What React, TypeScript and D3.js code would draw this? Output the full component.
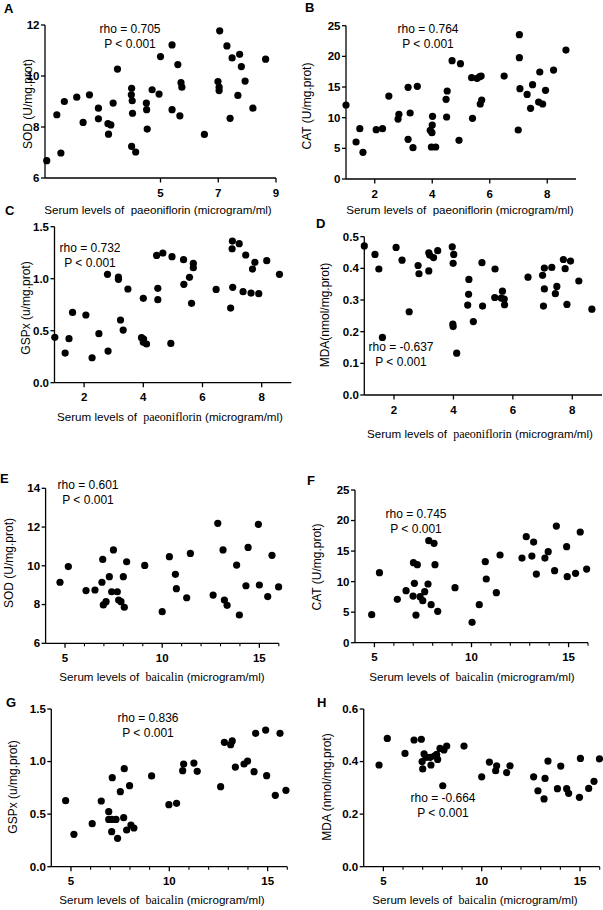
import React from 'react';
import * as d3 from 'd3';

// A: paeoniflorin vs SOD
const aX = [1.06,1.41,1.55,1.67,2.10,2.32,2.54,2.85,2.85,3.18,3.28,3.20,3.36,3.51,4.00,3.99,4.02,4.03,4.00,4.14,4.51,4.52,4.54,4.71,4.95,5.00,5.40,5.40,5.60,5.67,5.71,5.74,6.52,6.99,7.03,7.03,7.05,7.30,7.41,7.48,7.68,7.74,7.80,7.93,8.20,8.64];
const aY = [6.68,8.48,6.98,9.00,9.17,8.18,9.26,8.74,8.32,8.13,8.08,7.72,8.94,10.27,9.52,9.26,9.03,8.54,7.24,7.02,8.94,8.68,7.92,9.46,9.29,10.76,11.22,8.68,10.45,8.44,9.74,9.56,7.71,9.78,9.56,9.43,11.77,11.18,8.34,10.71,9.24,10.85,10.37,9.80,8.74,10.66];
// B: paeoniflorin vs CAT
const bX = [1.00,1.35,1.48,1.59,2.05,2.27,2.49,2.81,2.84,3.16,3.16,3.23,3.33,3.48,3.93,4.00,4.01,3.99,3.97,4.12,4.48,4.52,4.50,4.69,4.98,4.93,5.37,5.40,5.56,5.65,5.70,5.67,5.72,6.50,6.99,7.03,7.03,7.05,7.30,7.42,7.49,7.74,7.70,7.84,7.94,8.22,8.65];
const bY = [12.07,6.03,8.21,4.35,8.04,8.21,13.53,9.78,10.54,14.95,6.47,10.76,5.11,15.11,7.93,8.80,10.22,7.55,5.22,5.22,12.99,14.35,10.11,19.29,18.80,6.30,16.52,9.89,16.41,16.68,16.79,12.23,12.88,16.79,7.99,23.53,19.78,14.73,13.80,11.52,15.38,17.45,12.55,12.23,14.46,17.77,21.03];
// C: paeoniflorin vs GSPx
const cX = [1.01,1.36,1.49,1.61,2.06,2.27,2.50,2.81,2.79,3.16,3.16,3.23,3.32,3.48,4.00,3.94,4.01,4.00,4.11,4.45,4.66,4.49,4.49,4.97,4.93,5.36,5.37,5.56,5.69,5.69,5.63,6.46,7.01,7.00,7.24,7.46,7.02,6.95,7.37,7.77,7.69,7.64,7.90,8.17,8.60];
const cY = [0.436,0.285,0.423,0.676,0.651,0.240,0.471,0.304,1.042,1.016,0.994,0.603,0.506,0.901,0.811,0.433,0.420,0.388,0.372,1.224,1.247,0.907,0.798,1.212,0.378,1.183,0.946,1.013,1.147,1.106,0.763,0.897,1.362,1.288,1.337,1.228,0.917,0.718,0.875,1.157,1.093,0.862,0.856,1.173,1.042];
// D: paeoniflorin vs MDA
const dX = [1.00,1.36,1.49,1.61,2.07,2.27,2.51,2.81,2.84,3.17,3.20,3.33,3.17,3.47,3.96,4.01,3.99,3.98,3.99,4.11,4.52,4.51,4.48,4.67,4.96,4.98,5.40,5.39,5.61,5.65,5.71,5.72,6.51,7.00,7.06,7.06,7.03,7.31,7.43,7.48,7.70,7.76,7.82,7.94,8.22,8.66];
const dY = [0.471,0.444,0.398,0.182,0.466,0.426,0.263,0.409,0.383,0.449,0.442,0.434,0.392,0.456,0.468,0.444,0.416,0.224,0.216,0.132,0.365,0.318,0.284,0.232,0.418,0.281,0.398,0.308,0.306,0.328,0.303,0.285,0.372,0.378,0.401,0.335,0.281,0.403,0.320,0.343,0.428,0.399,0.286,0.423,0.360,0.271];
// E: baicalin vs SOD
const eX = [4.74,5.17,6.08,6.54,6.94,6.90,6.97,7.11,7.28,7.49,7.40,7.69,7.76,7.88,8.00,8.17,8.05,9.10,10.00,10.37,10.68,10.73,11.26,11.45,12.62,12.86,13.13,13.20,13.34,13.83,13.97,14.31,14.42,14.95,15.00,15.43,15.65,15.99];
const eY = [9.15,9.96,8.72,8.75,10.33,9.15,7.98,8.15,9.44,10.82,8.66,8.66,8.23,8.15,9.44,10.21,7.86,10.02,7.63,10.47,9.56,8.82,8.35,10.64,8.49,12.19,10.82,8.23,7.96,10.04,7.46,8.97,10.95,12.14,9.01,8.41,10.54,8.91];
// F: baicalin vs CAT
const fX = [4.86,5.26,6.18,6.63,7.01,7.21,7.06,6.99,7.14,7.35,7.49,7.59,7.76,7.80,8.07,8.12,7.92,8.26,9.15,10.03,10.40,10.71,10.76,11.28,11.47,12.60,12.82,13.11,13.20,13.34,13.78,13.95,14.28,14.37,14.90,14.93,15.36,15.60,15.93];
const fY = [4.59,11.46,7.10,8.52,13.10,12.77,9.72,7.64,4.53,7.53,6.88,8.35,9.61,16.70,16.27,12.77,6.22,5.13,9.01,3.33,6.22,13.26,10.43,8.19,14.36,13.86,17.36,14.19,16.48,11.24,13.86,14.90,11.79,19.10,15.72,10.81,11.35,18.12,12.06];
// G: baicalin vs GSPx
const gX = [4.73,5.15,6.08,6.54,6.92,6.92,7.07,7.10,7.07,7.29,7.37,7.51,7.68,7.71,7.83,8.05,8.20,7.98,9.10,9.98,10.37,10.68,10.73,11.25,11.42,12.61,12.80,13.12,13.20,13.36,13.80,13.98,14.31,14.39,14.90,14.95,15.39,15.63,15.93];
const gY = [0.628,0.308,0.409,0.625,0.523,0.450,0.450,0.847,0.333,0.450,0.270,0.714,0.466,0.932,0.349,0.396,0.368,0.771,0.863,0.590,0.603,0.913,0.977,0.986,0.907,0.761,1.183,1.161,1.196,0.948,0.977,1.005,0.904,1.269,1.300,0.866,0.679,1.269,0.726];
// H: baicalin vs MDA
const hX = [4.78,5.20,6.10,6.56,6.93,7.07,6.97,7.00,7.17,7.42,7.37,7.59,7.76,7.71,7.88,8.08,8.22,8.02,9.10,10.00,10.39,10.76,10.71,11.27,11.44,12.64,12.86,13.17,13.22,13.37,13.85,14.02,14.32,14.42,14.97,15.02,15.44,15.71,15.99];
const hY = [0.387,0.488,0.431,0.482,0.485,0.429,0.400,0.372,0.416,0.387,0.416,0.421,0.408,0.427,0.450,0.444,0.459,0.308,0.459,0.342,0.398,0.384,0.365,0.358,0.384,0.342,0.289,0.258,0.336,0.402,0.297,0.383,0.297,0.279,0.264,0.412,0.298,0.325,0.410];

const paeTicksA = [5, 7, 9];
const paeTicks = [2, 4, 6, 8];
const baiTicks = [5, 10, 15];
const baiMinor = [6, 7, 8, 9, 11, 12, 13, 14, 16];
const sodTicksA = [6, 8, 10, 12];
const sodTicksE = [6, 8, 10, 12, 14];
const catTicks = [0, 5, 10, 15, 20, 25];
const gspTicks = [0, 0.5, 1.0, 1.5];
const mdaTicksD = [0, 0.1, 0.2, 0.3, 0.4, 0.5];
const mdaTicksH = [0, 0.2, 0.4, 0.6];

const rhoValues = ['0.705', '0.764', '0.732', '-0.637', '0.601', '0.745', '0.836', '-0.664'];

const SANS = '"Liberation Sans", Arial, Helvetica, sans-serif';
const SERIF = '"Liberation Serif", "Times New Roman", serif';

const intFmt = d3.format('d');
const decFmt = d3.format('.1f');

const panels = [
  { letter: 'A', xs: aX, ys: aY, xd: [1, 9], yd: [6, 12], xr: [45, 276], yr: [178, 25], xt: paeTicksA, xm: [], yt: sodTicksA, fmt: intFmt,
    yLabel: 'SOD (U/mg.prot)', drug: 'paeoniflorin', serif: false, rho: rhoValues[0],
    lp: [4, 13], rp: [130, 33], xlp: [158, 214], ylp: [28, 104] },
  { letter: 'B', xs: bX, ys: bY, xd: [1, 9], yd: [0, 25], xr: [346, 576], yr: [179, 25.7], xt: paeTicks, xm: [], yt: catTicks, fmt: intFmt,
    yLabel: 'CAT (U/mg.prot)', drug: 'paeoniflorin', serif: false, rho: rhoValues[1],
    lp: [305, 12], rp: [428, 33], xlp: [460, 214], ylp: [307, 106] },
  { letter: 'C', xs: cX, ys: cY, xd: [1, 9], yd: [0, 1.5], xr: [54.5, 291.3], yr: [382.7, 226.7], xt: paeTicks, xm: [], yt: gspTicks, fmt: decFmt,
    yLabel: 'GSPx (u/mg.prot)', drug: 'paeoniflorin', serif: true, rho: rhoValues[2],
    lp: [5, 215], rp: [90, 252], xlp: [170, 421], ylp: [26, 308] },
  { letter: 'D', xs: dX, ys: dY, xd: [1, 9], yd: [0, 0.5], xr: [364.3, 602], yr: [395, 236.7], xt: paeTicks, xm: [], yt: mdaTicksD, fmt: decFmt,
    yLabel: 'MDA(nmol/mg.prot)', drug: 'paeoniflorin', serif: true, rho: rhoValues[3],
    lp: [316, 228], rp: [401, 351], xlp: [480, 438], ylp: [325, 315] },
  { letter: 'E', xs: eX, ys: eY, xd: [4, 16], yd: [6, 14], xr: [45.6, 278.8], yr: [643.3, 488.3], xt: baiTicks, xm: baiMinor, yt: sodTicksE, fmt: intFmt,
    yLabel: 'SOD (U/mg.prot)', drug: 'baicalin', serif: true, rho: rhoValues[4],
    lp: [0, 483], rp: [88, 489], xlp: [162, 681], ylp: [9, 563] },
  { letter: 'F', xs: fX, ys: fY, xd: [4, 16], yd: [0, 25], xr: [355, 588], yr: [642.7, 490], xt: baiTicks, xm: baiMinor, yt: catTicks, fmt: intFmt,
    yLabel: 'CAT (U/mg.prot)', drug: 'baicalin', serif: true, rho: rhoValues[5],
    lp: [307, 485], rp: [416, 518], xlp: [472, 681], ylp: [317, 567] },
  { letter: 'G', xs: gX, ys: gY, xd: [4, 16], yd: [0, 1.5], xr: [51.3, 287.3], yr: [866.7, 709], xt: baiTicks, xm: baiMinor, yt: gspTicks, fmt: decFmt,
    yLabel: 'GSPx (u/mg.prot)', drug: 'baicalin', serif: true, rho: rhoValues[6],
    lp: [6, 707], rp: [148, 722], xlp: [162, 904], ylp: [13, 787] },
  { letter: 'H', xs: hX, ys: hY, xd: [4, 16], yd: [0, 0.6], xr: [363.7, 599.7], yr: [866.7, 709], xt: baiTicks, xm: baiMinor, yt: mdaTicksH, fmt: decFmt,
    yLabel: 'MDA (nmol/mg.prot)', drug: 'baicalin', serif: true, rho: rhoValues[7],
    lp: [317, 707], rp: [443, 802], xlp: [475, 904], ylp: [327, 787] },
];

function Panel({ p }: { p: any }) {
  const x = d3.scaleLinear().domain(p.xd).range(p.xr);
  const y = d3.scaleLinear().domain(p.yd).range(p.yr);
  const x0 = x(p.xd[0]);
  const y0 = y(p.yd[0]);
  const pts = d3.zip(p.xs, p.ys) as [number, number][];

  return (
    <g fontFamily={SANS} fill="#000">
      <text x={p.lp[0]} y={p.lp[1]} fontSize={13} fontWeight="bold">{p.letter}</text>

      {/* y axis */}
      <line x1={x0} x2={x0} y1={y(p.yd[1])} y2={y0} stroke="#000" strokeWidth={1.3} />
      {p.yt.map((t: number) => (
        <g key={'y' + t} transform={`translate(${x0},${y(t)})`}>
          <line x1={-4} x2={0} stroke="#000" strokeWidth={1.3} />
          <text x={-5.5} dy="0.34em" textAnchor="end" fontSize={11.5} fontWeight="bold">{p.fmt(t)}</text>
        </g>
      ))}

      {/* x axis */}
      <line x1={x0} x2={x(p.xd[1])} y1={y0} y2={y0} stroke="#000" strokeWidth={1.3} />
      {p.xt.map((t: number) => (
        <g key={'x' + t} transform={`translate(${x(t)},${y0})`}>
          <line y1={0} y2={4.5} stroke="#000" strokeWidth={1.3} />
          <text y={18.5} textAnchor="middle" fontSize={11.5} fontWeight="bold">{t}</text>
        </g>
      ))}
      {p.xm.map((t: number) => (
        <line key={'m' + t} x1={x(t)} x2={x(t)} y1={y0} y2={y0 + 3} stroke="#000" strokeWidth={1.1} />
      ))}

      {/* axis titles */}
      <text x={p.xlp[0]} y={p.xlp[1]} textAnchor="middle" fontSize={11.6}>
        Serum levels of{' '}
        <tspan fontFamily={p.serif ? SERIF : SANS} fontSize={p.serif ? 12 : 11.6}>{'\u00a0' + p.drug}</tspan>
        {' (microgram/ml)'}
      </text>
      <text transform={`translate(${p.ylp[0]},${p.ylp[1]}) rotate(-90)`} textAnchor="middle" dy="0.35em" fontSize={12}>
        {p.yLabel}
      </text>

      {/* statistics */}
      <text x={p.rp[0]} y={p.rp[1]} textAnchor="middle" fontSize={12}>{`rho = ${p.rho}`}</text>
      <text x={p.rp[0]} y={p.rp[1] + 15} textAnchor="middle" fontSize={12}>P &lt; 0.001</text>

      {pts.map((d, i) => (
        <circle key={i} cx={x(d[0])} cy={y(d[1])} r={3.6} fill="#000" />
      ))}
    </g>
  );
}

export default function App() {
  return (
    <svg width={603} height={910} style={{ position: 'absolute', left: 0, top: 0, background: '#fff' }}>
      <rect width={603} height={910} fill="#fff" />
      {panels.map(p => <Panel key={p.letter} p={p} />)}
    </svg>
  );
}
